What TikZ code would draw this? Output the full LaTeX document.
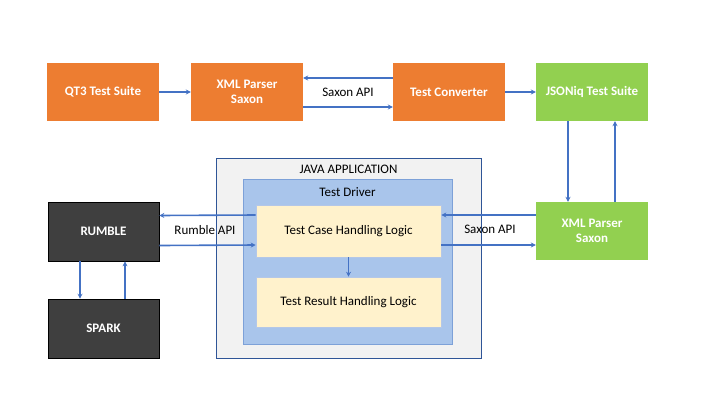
\documentclass[tikz,border=0pt]{standalone}
\usepackage{fontspec}
\setmainfont{Carlito}
\usetikzlibrary{arrows.meta}
\definecolor{orangebox}{HTML}{ED7D31}
\definecolor{greenbox}{HTML}{92D050}
\definecolor{darkbox}{HTML}{3F3F3F}
\definecolor{arrowblue}{HTML}{4472C4}
\definecolor{appfill}{HTML}{F2F2F2}
\definecolor{appline}{HTML}{2F5597}
\definecolor{drvfill}{HTML}{A9C5EB}
\definecolor{drvline}{HTML}{7DA1D8}
\definecolor{logicfill}{HTML}{FFF2CC}
\definecolor{logicline}{HTML}{B4C7E7}
\begin{document}
\begin{tikzpicture}[x=1pt,y=-1pt,
  txt/.style={font=\fontsize{13}{15}\selectfont},
  colbox/.style={txt,font=\fontsize{13}{15}\selectfont\bfseries,text=white,inner sep=0pt,align=center,minimum width=112pt,minimum height=58pt},
  orangenode/.style={colbox,fill=orangebox},
  greennode/.style={colbox,fill=greenbox},
  darknode/.style={colbox,fill=darkbox,draw=black,line width=0.6pt,minimum width=111pt,minimum height=59pt},
  logic/.style={txt,fill=logicfill,draw=logicline,line width=0.6pt,minimum width=185pt,inner sep=0pt},
  conn/.style={draw=arrowblue,line width=1.6pt,-{Stealth[length=5pt,width=5pt]}},
  lbl/.style={txt,inner sep=1pt}]
\useasboundingbox (0,0) rectangle (720,405);
% top row
\node[orangenode] (qt3) at (103,92) {QT3 Test Suite};
\node[orangenode] (xml1) at (247,92) {XML Parser\\Saxon};
\node[orangenode] (conv) at (449,92) {Test Converter};
\node[greennode] (json) at (592,92) {JSONiq Test Suite};
% right
\node[greennode] (xml2) at (592,231) {XML Parser\\Saxon};
% left
\node[darknode] (rumble) at (103.5,231.5) {RUMBLE};
\node[darknode] (spark) at (103.5,328.5) {SPARK};
% java application
\node[fill=appfill,draw=appline,line width=0.7pt,minimum width=265pt,minimum height=200pt,inner sep=0pt] (java) at (348.5,258) {};
\node[txt] (javat) at (348.5,169) {JAVA APPLICATION};
\node[fill=drvfill,draw=drvline,line width=0.7pt,minimum width=209pt,minimum height=165pt,inner sep=0pt] (drv) at (347.5,261.5) {};
\node[txt] (drvt) at (347.5,192) {Test Driver};
\node[logic,minimum height=52pt] (tcase) at (348.5,231) {Test Case Handling Logic};
\node[logic,minimum height=50pt] (tres) at (348.5,302) {Test Result Handling Logic};
% connectors
\draw[conn] (qt3) -- (xml1);
\draw[conn] ([yshift=14pt]conv.west) -- ([yshift=14pt]xml1.east);
\draw[conn] ([yshift=-15pt]xml1.east) -- ([yshift=-15pt]conv.west);
\node[lbl] (saxon1) at (348,92) {Saxon API};
\draw[conn] (conv) -- (json);
\draw[conn] ([xshift=-24pt]json.south) -- ([xshift=-24pt]xml2.north);
\draw[conn] ([xshift=23pt]xml2.north) -- ([xshift=23pt]json.south);
\draw[conn] ([yshift=16pt]tcase.west) -- ([yshift=16pt]rumble.east);
\draw[conn] ([yshift=-14pt]rumble.east) -- ([yshift=-14pt]tcase.west);
\node[lbl] (rapi) at (205,230) {Rumble API};
\draw[conn] ([yshift=16pt]xml2.west) -- ([yshift=16pt]tcase.east);
\draw[conn] ([yshift=-14pt]tcase.east) -- ([yshift=-14pt]xml2.west);
\node[lbl] (sapi2) at (490,229) {Saxon API};
\draw[conn] ([xshift=-23.5pt]rumble.south) -- ([xshift=-23.5pt]spark.north);
\draw[conn] ([xshift=21.5pt]spark.north) -- ([xshift=21.5pt]rumble.south);
\draw[conn] (tcase) -- (tres);
\end{tikzpicture}
\end{document}
